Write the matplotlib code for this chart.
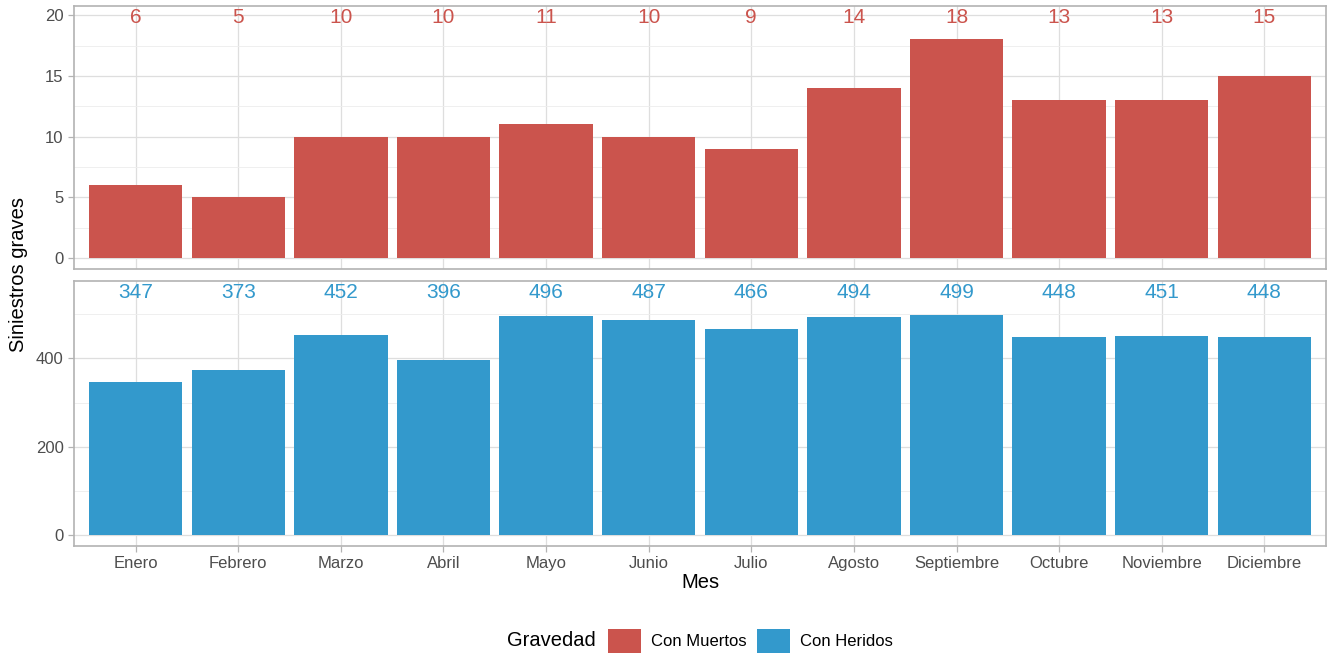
import numpy as np
import matplotlib.pyplot as plt
from matplotlib.patches import Patch

plt.rcParams['font.family'] = ['Liberation Sans', 'DejaVu Sans']

# datos
meses = ['Enero', 'Febrero', 'Marzo', 'Abril', 'Mayo', 'Junio', 'Julio',
         'Agosto', 'Septiembre', 'Octubre', 'Noviembre', 'Diciembre']
con_muertos = [6, 5, 10, 10, 11, 10, 9, 14, 18, 13, 13, 15]
con_heridos = [347, 373, 452, 396, 496, 487, 466, 494, 499, 448, 451, 448]

col_muertos = '#CB544D'
col_heridos = '#3399CC'

W, H = 1332, 657
fig = plt.figure(figsize=(W / 100, H / 100), dpi=100)

ax1 = fig.add_axes([74 / W, (H - 269) / H, (1326 - 74) / W, (269 - 6) / H])
ax2 = fig.add_axes([74 / W, (H - 546) / H, (1326 - 74) / W, (546 - 281) / H])

x = np.arange(len(meses))

def panel(ax, vals, color, major, minor):
    top = max(vals) * 1.1
    ax.bar(x, vals, width=0.91, color=color, zorder=3)
    for xi, v in zip(x, vals):
        ax.text(xi, top, str(v), ha='center', va='center', color=color,
                fontsize=15, zorder=4)
    ax.set_xlim(-0.6, len(meses) - 0.4)
    ax.set_ylim(-0.045 * top, top * 1.048)
    ax.set_yticks(major)
    ax.set_yticks(minor, minor=True)
    ax.set_xticks(x)
    ax.grid(True, which='major', color='#DEDEDE', linewidth=0.9, zorder=0)
    ax.grid(True, which='minor', axis='y', color='#EDEDED', linewidth=0.6, zorder=0)
    ax.set_axisbelow(True)
    for s in ax.spines.values():
        s.set_color('#B3B3B3')
        s.set_linewidth(1.2)
    ax.tick_params(which='major', colors='#B3B3B3', labelcolor='#4D4D4D',
                   labelsize=12, length=4, width=0.9)
    ax.tick_params(which='minor', length=0)

panel(ax1, con_muertos, col_muertos, [0, 5, 10, 15, 20], [2.5, 7.5, 12.5, 17.5])
panel(ax2, con_heridos, col_heridos, [0, 200, 400], [100, 300, 500])

ax1.tick_params(axis='x', labelbottom=False, length=0)
ax2.set_xticklabels(meses)

fig.text(19 / W, (H - 275) / H, 'Siniestros graves', rotation=90,
         ha='center', va='center', fontsize=14.5)
fig.text(700 / W, (H - 582) / H, 'Mes', ha='center', va='center', fontsize=14.5)

# leyenda
fig.text(507 / W, (H - 641) / H, 'Gravedad', ha='left', va='center', fontsize=14.5)
handles = [Patch(facecolor=col_muertos, label='Con Muertos'),
           Patch(facecolor=col_heridos, label='Con Heridos')]
fig.legend(handles=handles, loc='center left', bbox_to_anchor=(608 / W, (H - 641) / H),
           ncol=2, frameon=False, fontsize=12, handlelength=2.0, handleheight=1.9,
           handletextpad=0.6, columnspacing=0.6, borderpad=0, borderaxespad=0)

fig.savefig('out.png', dpi=100)
